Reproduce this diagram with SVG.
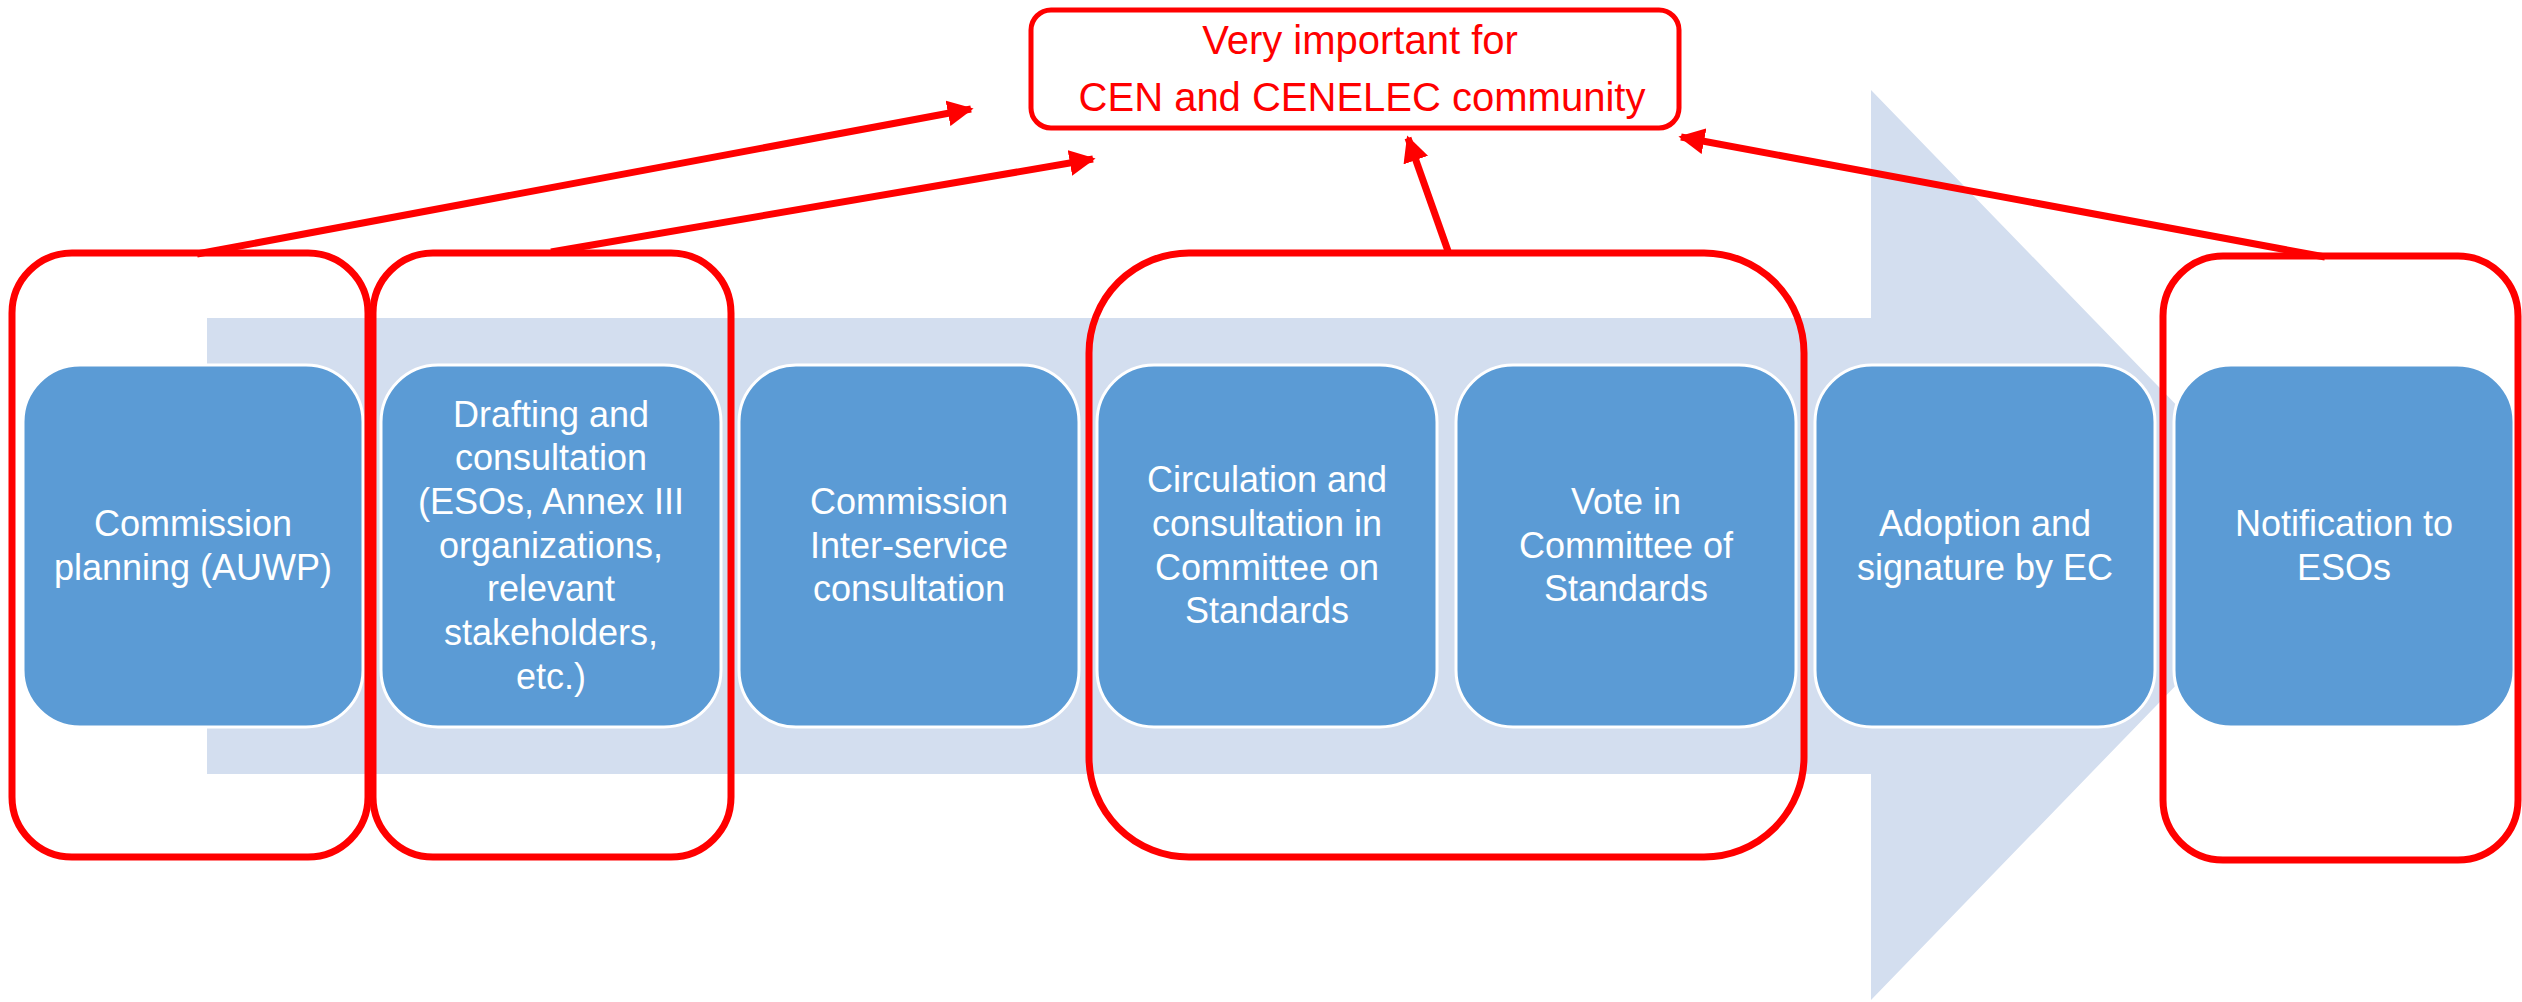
<svg xmlns="http://www.w3.org/2000/svg" width="2522" height="1002" viewBox="0 0 2522 1002">
<defs>
<style>
.step{fill:#5B9BD5;stroke:#FFFFFF;stroke-width:3}
.lbl{font-family:"Liberation Sans",Arial,sans-serif;font-size:36px;fill:#FFFFFF;text-anchor:middle}
.frame{fill:none;stroke:#FF0000;stroke-width:7}
.conn{fill:none;stroke:#FF0000;stroke-width:7}
.title{font-family:"Liberation Sans",Arial,sans-serif;font-size:40px;fill:#FF0000;text-anchor:middle}
</style>
<marker id="ah" viewBox="0 0 10 10" refX="9" refY="5" markerUnits="userSpaceOnUse" markerWidth="26" markerHeight="26" orient="auto">
<path d="M0,0 L10,5 L0,10 z" fill="#FF0000"/>
</marker>
</defs>
<rect width="2522" height="1002" fill="#FFFFFF"/>
<g id="process-arrow">
<path d="M207,318 L1871,318 L1871,90 L2312,545 L1871,1000 L1871,774 L207,774 Z" fill="#D3DEEF"/>
</g>
<g id="step1">
<rect class="step" x="23" y="365" width="340" height="362" rx="57" ry="57"/>
<text class="lbl"><tspan x="193" y="536">Commission</tspan><tspan x="193" y="580">planning (AUWP)</tspan></text>
</g>
<g id="step2">
<rect class="step" x="381" y="365" width="340" height="362" rx="57" ry="57"/>
<text class="lbl"><tspan x="551" y="427">Drafting and</tspan><tspan x="551" y="470">consultation</tspan><tspan x="551" y="514">(ESOs, Annex III</tspan><tspan x="551" y="558">organizations,</tspan><tspan x="551" y="601">relevant</tspan><tspan x="551" y="645">stakeholders,</tspan><tspan x="551" y="689">etc.)</tspan></text>
</g>
<g id="step3">
<rect class="step" x="739" y="365" width="340" height="362" rx="57" ry="57"/>
<text class="lbl"><tspan x="909" y="514">Commission</tspan><tspan x="909" y="558">Inter-service</tspan><tspan x="909" y="601">consultation</tspan></text>
</g>
<g id="step4">
<rect class="step" x="1097" y="365" width="340" height="362" rx="57" ry="57"/>
<text class="lbl"><tspan x="1267" y="492">Circulation and</tspan><tspan x="1267" y="536">consultation in</tspan><tspan x="1267" y="580">Committee on</tspan><tspan x="1267" y="623">Standards</tspan></text>
</g>
<g id="step5">
<rect class="step" x="1456" y="365" width="340" height="362" rx="57" ry="57"/>
<text class="lbl"><tspan x="1626" y="514">Vote in</tspan><tspan x="1626" y="558">Committee of</tspan><tspan x="1626" y="601">Standards</tspan></text>
</g>
<g id="step6">
<rect class="step" x="1815" y="365" width="340" height="362" rx="57" ry="57"/>
<text class="lbl"><tspan x="1985" y="536">Adoption and</tspan><tspan x="1985" y="580">signature by EC</tspan></text>
</g>
<g id="step7">
<rect class="step" x="2174" y="365" width="340" height="362" rx="57" ry="57"/>
<text class="lbl"><tspan x="2344" y="536">Notification to</tspan><tspan x="2344" y="580">ESOs</tspan></text>
</g>
<g id="frame1"><rect class="frame" x="12" y="253" width="356" height="604" rx="60" ry="60"/></g>
<g id="frame2"><rect class="frame" x="373" y="253" width="358" height="604" rx="60" ry="60"/></g>
<g id="frame3"><rect class="frame" x="1089" y="253" width="715" height="604" rx="100" ry="100"/></g>
<g id="frame4"><rect class="frame" x="2163" y="256" width="355" height="604" rx="60" ry="60"/></g>
<g id="connectors">
<line class="conn" x1="197" y1="254" x2="971" y2="109" marker-end="url(#ah)"/>
<line class="conn" x1="551" y1="252" x2="1093" y2="159" marker-end="url(#ah)"/>
<line class="conn" x1="1448" y1="251" x2="1408" y2="138" marker-end="url(#ah)"/>
<line class="conn" x1="2325" y1="257" x2="1681" y2="137" marker-end="url(#ah)"/>
</g>
<g id="importance-note">
<rect x="1031" y="10" width="648" height="118" rx="20" ry="20" fill="#FFFFFF" stroke="#FF0000" stroke-width="5"/>
<text class="title"><tspan x="1360" y="54">Very important for</tspan><tspan x="1362" y="111">CEN and CENELEC community</tspan></text>
</g>
</svg>
